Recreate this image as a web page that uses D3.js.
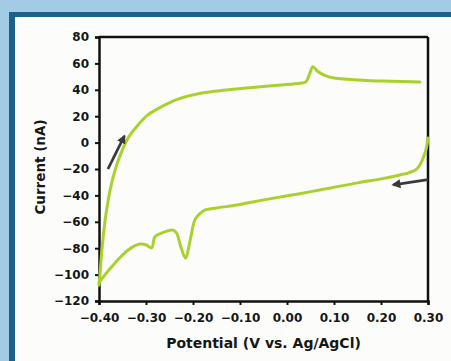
<!DOCTYPE html>
<html>
<head>
<meta charset="utf-8">
<script src="https://cdn.jsdelivr.net/npm/d3@7"></script>
<style>
  html, body { margin: 0; padding: 0; background: #a3cbe6; }
  svg { display: block; }
</style>
</head>
<body>
<div id="chart"></div>
<script>
// forward scan (-0.40 -> 0.30)
const forwardV = [-0.400, -0.398, -0.394, -0.387, -0.377, -0.366, -0.352, -0.338, -0.317, -0.296, -0.267, -0.232, -0.181, -0.130, -0.079, -0.020, 0.028, 0.040, 0.048, 0.055, 0.065, 0.080, 0.100, 0.130, 0.170, 0.220, 0.283];
const forwardI = [-108, -100, -82, -59, -37, -21, -7, 3.5, 13.3, 21, 27.2, 33, 37.6, 39.8, 41.5, 43.5, 45, 46, 52, 57.5, 54, 51, 49, 48, 47, 46.5, 46];

// reverse scan (0.30 -> -0.40)
const reverseV = [0.300, 0.296, 0.287, 0.276, 0.262, 0.240, 0.200, 0.150, 0.098, 0.030, -0.043, -0.110, -0.150, -0.174, -0.186, -0.196, -0.206, -0.216, -0.226, -0.235, -0.243, -0.267, -0.281, -0.288, -0.299, -0.313, -0.338, -0.373, -0.400];
const reverseI = [3.5, -5, -14, -20, -22.5, -24.5, -27.5, -30.5, -34, -38.5, -43, -47.5, -49.5, -51, -54, -58.6, -73.8, -87.4, -78.8, -68.5, -66.2, -68.5, -71.3, -79.8, -77.6, -76.8, -81.4, -94, -106];

const xTicks = [-0.40, -0.30, -0.20, -0.10, 0.00, 0.10, 0.20, 0.30];
const yTicks = [-120, -100, -80, -60, -40, -20, 0, 20, 40, 60, 80];

// scan direction arrows [fromV, fromI, toV, toI]
const arrows = [
  [-0.381, -20, -0.346, 5],
  [0.300, -28, 0.226, -32]
];

const W = 451, H = 361;
const margin = {top: 37, right: 23, bottom: 60, left: 99};
const width = 428 - margin.left, height = 301 - margin.top;

const svg = d3.select("#chart").append("svg")
  .attr("width", W).attr("height", H);

// framed panel
svg.append("rect").attr("x", 0).attr("y", 0).attr("width", W).attr("height", H).attr("fill", "#a3cbe6");
svg.append("rect").attr("x", 9).attr("y", 12).attr("width", W).attr("height", H).attr("fill", "#1d6189");
svg.append("rect").attr("x", 15).attr("y", 17).attr("width", W).attr("height", H).attr("fill", "#fcfdfb");

const g = svg.append("g").attr("transform", `translate(${margin.left},${margin.top})`);

const x = d3.scaleLinear().domain([-0.4, 0.3]).range([0, width]);
const y = d3.scaleLinear().domain([-120, 80]).range([height, 0]);

const font = "'DejaVu Sans', sans-serif";

// frame top & right
g.append("line").attr("x1", 0).attr("x2", width).attr("y1", 0).attr("y2", 0)
  .attr("stroke", "#111").attr("stroke-width", 2.5);
g.append("line").attr("x1", width).attr("x2", width).attr("y1", 0).attr("y2", height)
  .attr("stroke", "#111").attr("stroke-width", 2.5);

const xAxis = g.append("g").attr("transform", `translate(0,${height})`)
  .call(d3.axisBottom(x).tickValues(xTicks).tickFormat(d3.format(".2f")).tickSize(4).tickPadding(8));
const yAxis = g.append("g")
  .call(d3.axisLeft(y).tickValues(yTicks).tickFormat(d3.format("d")).tickSize(4).tickPadding(6));

[xAxis, yAxis].forEach(a => {
  a.select(".domain").attr("stroke", "#111").attr("stroke-width", 2.5);
  a.selectAll(".tick line").attr("stroke", "#111").attr("stroke-width", 2);
  a.selectAll(".tick text").attr("fill", "#161616")
    .style("font-family", font).style("font-weight", "bold").style("font-size", "12px");
});

const line = d3.line().x(d => x(d[0])).y(d => y(d[1])).curve(d3.curveCatmullRom);

g.append("path")
  .datum(forwardV.map((v, i) => [v, forwardI[i]]))
  .attr("fill", "none").attr("stroke", "#a9d12e").attr("stroke-width", 3)
  .attr("stroke-linejoin", "round").attr("stroke-linecap", "round")
  .attr("d", line);

g.append("path")
  .datum(reverseV.map((v, i) => [v, reverseI[i]]))
  .attr("fill", "none").attr("stroke", "#a9d12e").attr("stroke-width", 3)
  .attr("stroke-linejoin", "round").attr("stroke-linecap", "round")
  .attr("d", line);

svg.append("defs").append("marker")
  .attr("id", "ah").attr("viewBox", "0 0 10 10").attr("refX", 8).attr("refY", 5)
  .attr("markerWidth", 3.2).attr("markerHeight", 3.2).attr("orient", "auto")
  .append("path").attr("d", "M0,0 L10,5 L0,10 Z").attr("fill", "#3a3a3a");

g.selectAll(".arrow").data(arrows).enter().append("line")
  .attr("x1", d => x(d[0])).attr("y1", d => y(d[1]))
  .attr("x2", d => x(d[2])).attr("y2", d => y(d[3]))
  .attr("stroke", "#3a3a3a").attr("stroke-width", 2.8)
  .attr("marker-end", "url(#ah)");

svg.append("text")
  .attr("x", margin.left + width / 2).attr("y", 348)
  .attr("text-anchor", "middle").attr("fill", "#161616")
  .style("font-family", font).style("font-weight", "bold").style("font-size", "14px")
  .text("Potential (V vs. Ag/AgCl)");

svg.append("text")
  .attr("transform", `translate(45,${margin.top + height / 2 - 2}) rotate(-90)`)
  .attr("text-anchor", "middle").attr("fill", "#161616")
  .style("font-family", font).style("font-weight", "bold").style("font-size", "13.5px")
  .text("Current (nA)");
</script>
</body>
</html>
